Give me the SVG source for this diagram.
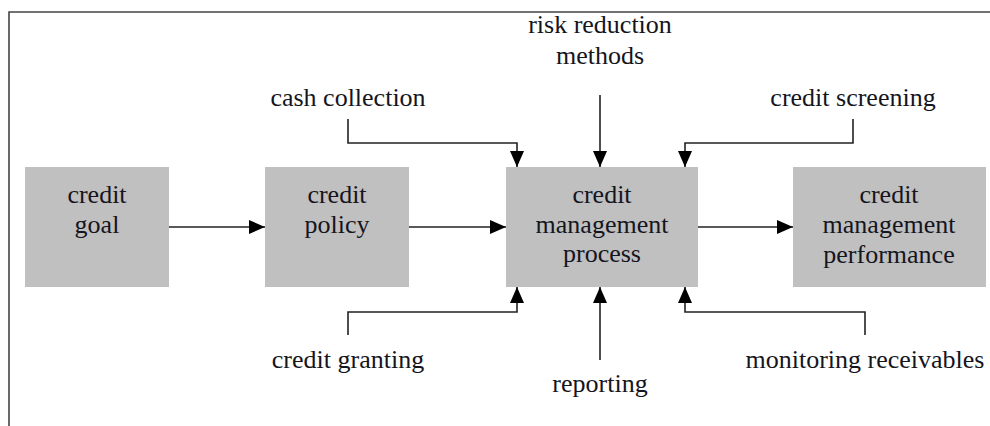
<svg xmlns="http://www.w3.org/2000/svg" width="990" height="426" viewBox="0 0 990 426">
  <style>
    .box { fill: #c0c0c0; }
    .lbl { font-family: 'Liberation Serif', 'DejaVu Serif', 'Noto Serif', serif; font-size: 26px; fill: #151520; text-anchor: middle; }
    .wire { fill: none; stroke: #222; stroke-width: 1.6; }
    .frame { fill: none; stroke: #444; stroke-width: 1.6; }
  </style>
  <defs>
    <marker id="arrow" viewBox="0 0 16 14" refX="16" refY="7" markerWidth="16" markerHeight="14" markerUnits="userSpaceOnUse" orient="auto">
      <path d="M0,0 L16,7 L0,14 Z" fill="#000"/>
    </marker>
  </defs>

  <!-- outer frame (top and left rules) -->
  <path class="frame" d="M9,426 V12 H990"/>

  <g id="credit-goal">
    <rect class="box" x="25" y="167" width="144" height="120"/>
    <text class="lbl" x="97" y="203">credit</text>
    <text class="lbl" x="97" y="233">goal</text>
  </g>

  <g id="credit-policy">
    <rect class="box" x="265" y="167" width="144" height="120"/>
    <text class="lbl" x="337" y="203">credit</text>
    <text class="lbl" x="337" y="233">policy</text>
  </g>

  <g id="credit-management-process">
    <rect class="box" x="506" y="167" width="192" height="120"/>
    <text class="lbl" x="602" y="203">credit</text>
    <text class="lbl" x="602" y="233">management</text>
    <text class="lbl" x="602" y="262">process</text>
  </g>

  <g id="credit-management-performance">
    <rect class="box" x="793" y="167" width="193" height="120"/>
    <text class="lbl" x="889" y="203">credit</text>
    <text class="lbl" x="889" y="233">management</text>
    <text class="lbl" x="889" y="263">performance</text>
  </g>

  <g id="risk-reduction-methods">
    <text class="lbl" x="600" y="33">risk reduction</text>
    <text class="lbl" x="600" y="64">methods</text>
  </g>
  <g id="cash-collection">
    <text class="lbl" x="348" y="106">cash collection</text>
  </g>
  <g id="credit-screening">
    <text class="lbl" x="853" y="106">credit screening</text>
  </g>
  <g id="credit-granting">
    <text class="lbl" x="348" y="368">credit granting</text>
  </g>
  <g id="reporting">
    <text class="lbl" x="600" y="392">reporting</text>
  </g>
  <g id="monitoring-receivables">
    <text class="lbl" x="865" y="368">monitoring receivables</text>
  </g>

  <g id="connectors">
    <path class="wire" d="M169,227 H265" marker-end="url(#arrow)"/>
    <path class="wire" d="M409,227 H506" marker-end="url(#arrow)"/>
    <path class="wire" d="M698,227 H793" marker-end="url(#arrow)"/>
    <path class="wire" d="M348,119 V143 H517 V167" marker-end="url(#arrow)"/>
    <path class="wire" d="M600,95 V167" marker-end="url(#arrow)"/>
    <path class="wire" d="M853,119 V143 H685 V167" marker-end="url(#arrow)"/>
    <path class="wire" d="M348,335 V312 H517 V287" marker-end="url(#arrow)"/>
    <path class="wire" d="M600,360 V287" marker-end="url(#arrow)"/>
    <path class="wire" d="M865,335 V312 H685 V287" marker-end="url(#arrow)"/>
  </g>
</svg>
